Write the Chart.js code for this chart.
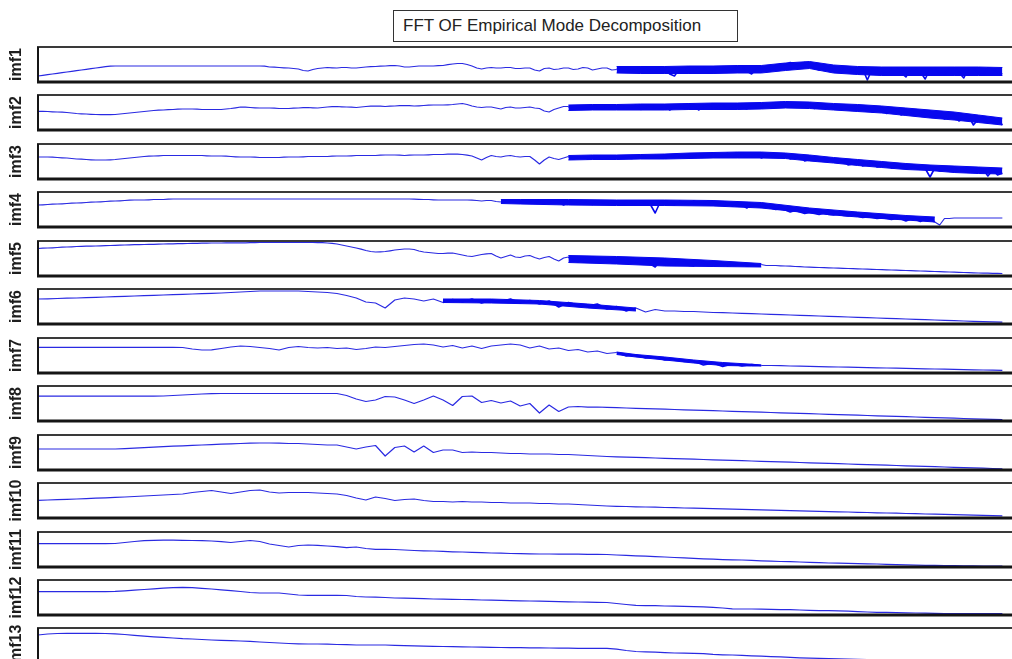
<!DOCTYPE html>
<html lang="en">
<head>
    <meta charset="UTF-8">
    <title>FFT OF Empirical Mode Decomposition</title>
    <script src="https://cdn.jsdelivr.net/npm/chart.js"></script>
    <style>
        body {
            margin: 0;
            width: 1012px;
            height: 659px;
            overflow: hidden;
            background: #fff;
            font-family: "Liberation Sans", Arial, sans-serif;
            position: relative;
        }
        .title-box {
            position: absolute;
            left: 393px;
            top: 10px;
            width: 345px;
            height: 32px;
            box-sizing: border-box;
            border: 1px solid #333;
            font-size: 17px;
            line-height: 30px;
            padding-left: 9px;
            color: #222;
        }
        .panel {
            position: absolute;
            left: 0;
        }
    </style>
</head>
<body>

<div class="title-box">FFT OF Empirical Mode Decomposition</div>
<div id="panels"></div>

<script>
    // values: height above the panel floor (0..35),
    // spread evenly over the frequency axis 0..100
    const modeNames = ['imf1', 'imf2', 'imf3', 'imf4', 'imf5', 'imf6', 'imf7',
                       'imf8', 'imf9', 'imf10', 'imf11', 'imf12', 'imf13'];

    const imf1 = [
        6, 6.6, 7.3, 8, 8.6, 9.3, 10, 10.6, 11.3, 12,
        12.6, 13.3, 14, 14.6, 15.3, 15.8, 16, 16, 16, 16,
        16, 16, 16, 16, 16, 16, 16, 16, 16, 16,
        16, 16, 16, 16, 16, 16, 16, 16, 16, 16,
        16, 16, 16, 16, 16, 16, 16, 15.8, 15, 14.8,
        14.5, 14.2, 14, 13.5, 13, 11.5, 11, 12.5, 13.5, 14,
        14.5, 14.2, 14, 14.5, 14.5, 14, 14, 14.5, 15, 15.3,
        15.5, 15.8, 16, 16.3, 16.5, 16, 15, 15, 15.5, 16,
        16, 16, 16, 16.3, 16.5, 17.3, 18, 18.5, 18.5, 17.5,
        16, 14, 13, 14, 14.5, 14, 14, 14.5, 14.5, 13.5,
        13.5, 14, 14, 12, 11, 13.5, 14, 12.5, 13, 14,
        14, 12.5, 13, 14.5, 14, 12, 13, 14, 14, 12,
        12.5, 14.5, 14, 10.5, 12, 15, 14.5, 11, 11, 14.5,
        14, 8, 6, 13, 14, 10.5, 11, 14.5, 14.5, 10,
        11, 15, 15, 10.5, 12, 15, 15.5, 11, 8, 13,
        15, 12.5, 12, 16, 18, 17.5, 19.5, 18.5, 17, 19.5,
        17.5, 13.5, 12, 15, 15, 11, 10, 14, 14, 10,
        9, 13.5, 2, 13, 13.5, 9.5, 8, 14, 14, 9,
        5, 13.5, 14, 10, 3, 13, 13.5, 9, 8, 14,
        14, 9.5, 4, 13.5, 14, 9, 7, 14, 13.5, 9.5,
        8];

    const imf2 = [
        18.7, 18.6, 18.5, 18.2, 18, 17.8, 17.5, 17, 16.5, 16.2,
        16, 15.7, 15.5, 15.4, 15.3, 15.4, 15.5, 16, 16.5, 17,
        17.5, 18, 18.5, 19, 19.5, 19.8, 20, 20.3, 20.5, 20.8,
        21, 21, 21, 20.8, 20.5, 20.5, 20.5, 20.5, 20.5, 21,
        21.5, 22.2, 23, 22.8, 22.5, 22.2, 22, 22, 22, 21.8,
        21.5, 21.5, 21.5, 21.8, 22, 22.3, 22.5, 22.2, 22, 22.5,
        23, 23.3, 23.5, 23.2, 23, 22.8, 22.5, 23, 23.5, 23.8,
        24, 23.8, 23.5, 23.8, 24, 24.3, 24.5, 24.3, 24, 24.2,
        24.5, 24.8, 25, 25, 25, 25.2, 25.5, 26, 26.5, 25.5,
        24, 23, 22.5, 23, 23, 22, 21, 22.5, 23, 22,
        22, 22.5, 23, 22, 21.5, 19, 18, 20.5, 22, 23.5,
        23.5, 21, 24, 22, 21, 24.5, 22.5, 21.5, 24.5, 22,
        22, 24.5, 21, 23, 25, 20.5, 22.5, 25, 22, 22.5,
        25, 20, 23, 25, 21.5, 22, 25, 20, 23, 25.5,
        21, 22.5, 25.5, 21.5, 23, 26, 22.5, 21, 26, 22,
        23.5, 26.5, 22, 23, 27.5, 24, 23, 27, 25, 23.5,
        26.5, 21.5, 24, 25, 21, 23, 24, 20.5, 21.5, 23.5,
        19.5, 21, 23, 18, 20, 21.5, 16.5, 19, 20.5, 15,
        17.5, 19, 14, 16, 17.5, 13, 15, 16, 11, 13.5,
        16, 9, 12, 14, 5, 11, 12.5, 7, 10, 11.5,
        5];

    const imf3 = [
        22, 22, 22, 21.8, 21.5, 21.2, 21, 20.5, 20, 19.8,
        19.5, 19.2, 19, 19, 19, 19.2, 19.5, 20, 20.5, 21,
        21.5, 22, 22.5, 22.8, 23, 23.2, 23.5, 23.5, 23.5, 23.5,
        23.5, 23.5, 23.5, 23.5, 23.5, 23.2, 23, 23, 23, 22.8,
        22.5, 22.2, 22, 22, 22, 21.8, 21.5, 21.5, 21.5, 21.5,
        21.5, 21.8, 22, 22, 22, 22.2, 22.5, 22.5, 22.5, 22.5,
        22.5, 22.8, 23, 23, 23, 23.2, 23.5, 23.5, 23.5, 23.5,
        23.5, 23.8, 24, 24, 24, 23.8, 23.5, 23.8, 24, 24,
        24, 24.2, 24.5, 24.5, 24.5, 24.8, 25, 24.8, 24.5, 23.8,
        23, 21, 19, 21.5, 23.5, 22.5, 22, 23, 23.5, 22.5,
        22, 22.5, 22.5, 19, 15, 19, 22, 20.5, 19.5, 21,
        22.5, 20, 21.5, 22.5, 20, 20.5, 22.5, 20.5, 21, 23,
        20.5, 21.5, 23, 20.5, 21, 23.5, 21, 21.5, 23.5, 21,
        22, 24, 21.5, 22, 24.5, 21, 22.5, 25, 22, 22.5,
        26, 22, 23, 26, 22, 23, 26, 22.5, 23.5, 26,
        21, 23, 25.5, 22, 22.5, 24.5, 20, 21, 23, 18,
        19.5, 21.5, 18, 18, 20, 17, 16.5, 18, 14, 15,
        17, 13, 14, 16.5, 12, 13, 15, 11, 12, 14,
        10, 11, 13, 10, 10.5, 2, 11, 8, 9, 10,
        12, 8, 8.5, 11, 7, 9, 10, 3, 9, 4,
        6];

    const imf4 = [
        22, 22.2, 22.5, 22.8, 23, 23.2, 23.5, 23.8, 24, 24.2,
        24.5, 24.8, 25, 25.2, 25.5, 25.8, 26, 26.2, 26.5, 26.8,
        27, 27, 27, 27.2, 27.5, 27.5, 27.5, 27.8, 28, 28,
        28, 28, 28, 28, 28, 28, 28, 28, 28, 28,
        28, 28, 28, 28, 28, 28, 28, 28, 28, 28,
        28, 28, 28, 28, 28, 28, 28, 28, 28, 28,
        28, 28, 28, 28, 28, 28, 28, 28, 28, 28,
        28, 28, 28, 28, 28, 28, 28, 28, 27.8, 27.6,
        27.5, 27.5, 27.2, 27, 27, 27, 27, 27, 27, 27,
        26.8, 26.5, 26, 26.5, 26.5, 25.5, 25, 26, 26, 24.5,
        24.5, 26, 25, 24, 26.5, 24, 23.5, 26, 25.5, 22,
        25.5, 24, 23.5, 26, 24.5, 22.5, 26, 25, 23, 26,
        24, 22, 25.5, 24.5, 22.5, 26, 24, 22.5, 14, 24.5,
        25.5, 23, 22, 26, 24, 22.5, 26, 24.5, 22.5, 26,
        24, 23, 25, 23, 21, 24.5, 22, 19, 22.5, 21,
        19.5, 21, 19, 17.5, 18.5, 17, 15, 16.5, 15, 13.5,
        14.5, 13.5, 12.5, 14, 12.5, 12, 13, 11.5, 11, 12,
        11, 9.5, 10, 9.5, 8.5, 9, 8.5, 7.5, 8.5, 8,
        6, 8, 7.5, 5.5, 8, 7.5, 5, 2, 8.5, 8.5,
        9, 9, 9, 9, 9, 9, 9, 9, 9, 9,
        9];

    const imf5 = [
        27.5, 27.8, 28, 28.2, 28.5, 28.8, 29, 29.2, 29.5, 29.6,
        29.8, 29.9, 30, 30.2, 30.3, 30.5, 30.6, 30.8, 31, 31.2,
        31.3, 31.4, 31.5, 31.6, 31.7, 31.8, 32, 32.1, 32.2, 32.3,
        32.4, 32.5, 32.6, 32.7, 32.8, 32.9, 33, 33, 33, 33.1,
        33.2, 33.2, 33.2, 33.2, 33.3, 33.4, 33.5, 33.5, 33.5, 33.5,
        33.5, 33.5, 33.5, 33.5, 33.5, 33.5, 33.5, 33.5, 33.4, 33.3,
        33, 32.6, 32, 31, 30, 29, 28, 26.8, 25.5, 24.5,
        24, 24.2, 24.5, 25.2, 26, 26.5, 27, 27, 26.5, 25,
        24, 23.5, 23, 22.5, 22.5, 22.8, 23, 22, 21, 20,
        19.5, 20.5, 21.5, 22.2, 22.5, 20, 18, 19.5, 21, 19,
        18.5, 20, 20.5, 18.5, 17, 18.5, 19.5, 17, 15, 18,
        19, 15.5, 14, 17.5, 18.5, 14, 15, 18, 17.5, 13,
        13, 17, 18, 13.5, 14, 17.5, 17, 12, 9, 15,
        17, 12, 11, 16, 15.5, 10.5, 10, 14.5, 14, 10.5,
        11, 13.5, 13.5, 10, 11, 12.5, 12.5, 10, 10.5, 11.5,
        11.5, 10.5, 10.5, 10.5, 10.2, 10, 9.8, 9.5, 9.3, 9,
        8.9, 8.7, 8.5, 8.4, 8.2, 8, 7.9, 7.7, 7.5, 7.4,
        7.2, 7, 6.9, 6.7, 6.5, 6.4, 6.2, 6, 5.9, 5.7,
        5.5, 5.4, 5.2, 5, 4.9, 4.7, 4.5, 4.4, 4.2, 4,
        3.9, 3.7, 3.5, 3.4, 3.2, 3, 2.9, 2.8, 2.7, 2.6,
        2.5];

    const imf6 = [25, 25.2, 25.5, 25.8, 26, 26.3, 26.6, 27, 27.3, 27.6, 28, 28.3, 28.6, 29, 29.3, 29.6, 30, 30.3, 30.6, 31,
        31.5, 32, 32.5, 33, 33, 33, 33, 33, 32.5, 32, 31.5, 30.5, 28.5, 26, 22, 21, 16, 24, 26, 25,
        23, 25, 21.5, 24.5, 22, 25, 21, 24, 22.5, 25, 21, 23.5, 20, 23, 17, 21.5, 19, 18, 20, 15,
        17.5, 13, 16, 12, 14.5, 13, 13, 12.5, 12.5, 12, 11.5, 11.3, 11, 10.6, 10.3, 10, 9.6, 9.3, 9, 8.6,
        8.3, 8, 7.6, 7.3, 7, 6.6, 6.3, 6, 5.6, 5.3, 5, 4.6, 4.3, 4, 3.6, 3.3, 3, 2.7, 2.4, 2.1, 1.8];

    const imf7 = [25.7, 25.7, 25.7, 25.7, 25.7, 25.7, 25.7, 25.7, 25.7, 25.7, 25.7, 25.7, 25.7, 25.6, 25.6, 25.5, 24, 23, 23.2, 24.5,
        26, 27, 26.5, 25.5, 24.5, 23, 25.5, 26.5, 25.5, 25, 25.5, 24.5, 25, 23.5, 24.5, 26, 25.5, 26.5, 27.5, 28.5,
        29, 28, 26, 27.5, 25, 27, 24.5, 27, 28, 29, 28, 25, 27, 24, 25, 22.5, 23.5, 21, 22, 19.5,
        20.5, 17, 18, 15, 16, 13, 14, 11.5, 12, 8, 10, 6.5, 9, 7, 8.5, 7.5, 7.5, 7.3, 7, 6.8,
        6.6, 6.4, 6.2, 6, 5.8, 5.6, 5.4, 5.2, 5, 4.8, 4.6, 4.4, 4.2, 4, 3.8, 3.6, 3.4, 3.2, 3, 2.8, 2.6];

    const imf8 = [24.8, 24.8, 24.8, 24.8, 24.8, 24.8, 24.8, 24.8, 24.8, 24.8, 24.8, 24.8, 24.8, 25, 25.5, 26, 26.5, 27, 27.3, 27.5,
        27.5, 27.5, 27.5, 27.5, 27.5, 27.5, 27.5, 27.5, 27.5, 27.5, 27.5, 27.5, 25.5, 22, 19.5, 21, 24.5, 24, 21, 17.5,
        21, 25, 21, 15.5, 24.5, 25, 18.5, 20.5, 18, 20, 15, 17.5, 8, 16, 9.5, 14, 14.5, 13.8, 14, 13.6,
        13.3, 13, 12.7, 12.4, 12.1, 11.8, 11.5, 11.2, 10.9, 10.6, 10.3, 10, 9.7, 9.4, 9.1, 8.8, 8.5, 8.2, 7.9, 7.6,
        7.3, 7, 6.7, 6.4, 6.1, 5.8, 5.5, 5.2, 4.9, 4.6, 4.3, 4, 3.7, 3.4, 3.1, 2.8, 2.5, 2.2, 1.9, 1.6, 1.3];

    const imf9 = [21, 21, 21, 21, 21, 21, 21, 21, 21, 21.3, 21.8, 22.3, 22.8, 23.3, 23.8, 24.2, 24.6, 25, 25.4, 25.8,
        26.2, 26.5, 26.8, 27, 27, 26.8, 26.5, 26.5, 26, 25.5, 25, 25, 23, 21, 23, 24.5, 14, 22.5, 24, 18,
        24, 17.5, 20, 20, 17.5, 18, 17.5, 17.5, 17, 16.5, 16.5, 16, 16, 16, 15.5, 15.5, 15, 14.5, 14, 13.5,
        13.2, 12.9, 12.6, 12.3, 12, 11.7, 11.4, 11.1, 10.8, 10.5, 10.2, 9.9, 9.6, 9.3, 9, 8.7, 8.4, 8.1, 7.8, 7.5,
        7.2, 6.9, 6.6, 6.3, 6, 5.7, 5.4, 5.1, 4.8, 4.5, 4.2, 3.9, 3.6, 3.3, 3, 2.7, 2.4, 2.1, 1.8, 1.5, 1.2];

    const imf10 = [17.6, 18, 18.3, 18.6, 19, 19.4, 19.8, 20.2, 20.6, 21, 21.5, 22, 22.5, 23, 23.5, 24, 25.5, 26.5, 27.5, 26,
        24.5, 26, 27.5, 28, 26, 25, 25.5, 25.5, 25.5, 25, 24.5, 24, 22.5, 20, 18, 21, 19.5, 17.5, 18.5, 19,
        17.5, 16.5, 16.5, 16, 16.5, 16, 16, 15.5, 15.5, 15, 15, 15, 14.5, 14.5, 14, 14, 13.5, 13, 12.5, 12,
        11.7, 11.5, 11.2, 11, 10.8, 10.5, 10.3, 10, 9.8, 9.6, 9.3, 9.1, 8.8, 8.6, 8.4, 8.1, 7.9, 7.6, 7.4, 7.2,
        6.9, 6.7, 6.4, 6.2, 6, 5.7, 5.5, 5.2, 5, 4.8, 4.5, 4.3, 4, 3.8, 3.6, 3.3, 3.1, 2.8, 2.6, 2.4, 2.2];

    const imf11 = [23.3, 23.3, 23.3, 23.3, 23.3, 23.3, 23.3, 23.3, 23.5, 24.5, 25.5, 26.3, 26.7, 26.8, 26.8, 26.7, 26.5, 26.3, 26, 25.3,
        24.5, 25.5, 26.5, 25.5, 23, 21.5, 20, 21.5, 22, 21.7, 21, 20.3, 19.3, 20, 18.5, 17.7, 17.7, 17.5, 17, 16.5,
        16.2, 16, 15.6, 15.2, 15, 14.6, 14.3, 14, 13.8, 13.5, 13.3, 13.2, 13, 13, 12.9, 12.8, 12.8, 12.7, 12.7, 12.5,
        12, 11.6, 11.2, 10.8, 10.4, 10, 9.5, 9.2, 8.6, 8.2, 7.8, 7.4, 7.2, 7, 6.6, 6.2, 5.8, 5.5, 5.3, 5,
        4.6, 4.3, 4, 3.8, 3.6, 3.4, 3.2, 3, 2.7, 2.4, 2.1, 1.9, 1.7, 1.6, 1.4, 1.3, 1.2, 1.1, 1, 1, 1];

    const imf12 = [23.4, 23.4, 23.4, 23.4, 23.4, 23.4, 23.4, 23.4, 23.6, 24.2, 24.8, 25.5, 26.2, 26.9, 27.4, 27.7, 27.3, 26.7, 26, 25.2,
        24.3, 23.5, 22.5, 22, 22, 22, 21, 20, 19.7, 19.7, 19.7, 19.7, 19.5, 18.5, 18, 17.8, 17.5, 17, 16.8, 16.6,
        16.3, 16, 15.8, 15.7, 15.5, 15.3, 15, 14.8, 14.6, 14.4, 14.2, 14, 13.8, 13.6, 13.4, 13.2, 13, 12.8, 12.7, 12.5,
        11.5, 10.5, 9.6, 9.4, 9.3, 9, 8.8, 8.6, 8.4, 8.2, 7.6, 7, 6.2, 6, 6, 5.8, 5.6, 5.4, 5.4, 5,
        4.6, 4.4, 4.4, 4.2, 3.8, 3.4, 3, 2.7, 2.6, 2.4, 2.2, 2, 1.8, 1.6, 1.5, 1.5, 1.5, 1.4, 1.4, 1.3, 1.3];

    const imf13 = [28, 29, 29.5, 29.7, 29.7, 29.7, 29.7, 29.5, 29.2, 28.5, 27.6, 26.8, 26.2, 25.6, 25, 24.3, 24, 23.5, 23, 22.7,
        22.3, 22, 21.6, 21, 20.5, 20, 19.5, 19.2, 19, 19, 18.8, 18.5, 18.3, 18, 18, 18, 18, 17.7, 17.4, 17.1,
        16.9, 16.7, 16.5, 16.3, 16.1, 16, 15.8, 15.6, 15.5, 15.4, 15.3, 15.2, 15.1, 15, 14.9, 14.8, 14.7, 14.7, 14.7, 14.6,
        13.8, 12.5, 11.5, 11.2, 10.8, 10.4, 10, 9.8, 9.7, 9.3, 8.6, 8.2, 8, 7.6, 7.2, 6.8, 6.4, 6.1, 5.6, 5.2,
        4.8, 4.6, 4.4, 4.1, 3.8, 3.6, 3.4, 3.2, 3, 2.8, 2.6, 2.4, 2.2, 2, 1.8, 1.6, 1.5, 1.4, 1.3, 1.2, 1.1];

    const modes = [imf1, imf2, imf3, imf4, imf5, imf6, imf7, imf8, imf9, imf10, imf11, imf12, imf13];

    // where the trace is a dense noisy band: x positions with the band's upper and lower edge
    const band1X   = [60, 62.5, 65, 67.5, 70, 72.5, 75, 77.5, 80, 82.5, 85, 87.5, 90, 92.5, 95, 97.5, 100];
    const band1Top = [15.5, 15.5, 15.5, 16, 16, 16.5, 16.5, 19, 20.5, 17, 15.5, 15, 15, 15, 15, 15, 14.5];
    const band1Bot = [9, 8.5, 8.5, 8.5, 8.5, 9, 9, 11.5, 13.5, 9, 7.5, 6.5, 6.5, 6.5, 6.5, 6.5, 6.5];

    const band2X   = [55, 57.5, 60, 62.5, 65, 67.5, 70, 72.5, 75, 77.5, 80, 82.5, 85, 87.5, 90, 92.5, 95, 97.5, 100];
    const band2Top = [25, 25.5, 25.5, 26, 26, 26.5, 27, 27, 27.5, 28.5, 28, 26.5, 25.5, 24, 22, 20, 18, 15, 12];
    const band2Bot = [19.5, 20, 20, 20, 20, 20.5, 20.5, 20.5, 21, 22, 21.5, 20, 18.5, 17, 14.5, 12, 10, 7.5, 5];

    const band3X   = [55, 57.5, 60, 62.5, 65, 67.5, 70, 72.5, 75, 77.5, 80, 82.5, 85, 87.5, 90, 92.5, 95, 97.5, 100];
    const band3Top = [23.5, 24, 24, 24.5, 25, 26, 26.5, 27, 27, 26, 24, 21.5, 19.5, 17.5, 15.5, 14, 13, 12, 11];
    const band3Bot = [19, 19.5, 19.5, 20, 20, 20.5, 21, 21, 21, 20.5, 18, 16, 13.5, 11.5, 9.5, 8.5, 6.5, 5.5, 5];

    const band4X   = [48, 50, 55, 60, 65, 70, 75, 80, 85, 90, 93];
    const band4Top = [27.5, 27.5, 27.5, 27, 27, 26.5, 24.5, 19, 15, 11.5, 10];
    const band4Bot = [23.5, 23, 22, 21.5, 21.5, 21, 19, 14, 10, 7, 5];

    const band5X   = [55, 60, 65, 70, 75];
    const band5Top = [20.5, 19.5, 18, 15.5, 12.5];
    const band5Bot = [13.5, 12, 10, 9.5, 9];

    const band6X   = [42, 47, 52, 57, 62];
    const band6Top = [25, 25, 23.5, 20, 16];
    const band6Bot = [21.5, 21, 20, 16, 13];

    const band7X   = [60, 62, 65, 68, 71, 74, 75];
    const band7Top = [21, 18.5, 16, 13, 10.5, 8.8, 8];
    const band7Bot = [18.5, 16, 13, 10, 7.5, 7, 7];

    const bands = [
        [band1X, band1Top, band1Bot], [band2X, band2Top, band2Bot], [band3X, band3Top, band3Bot],
        [band4X, band4Top, band4Bot], [band5X, band5Top, band5Bot], [band6X, band6Top, band6Bot],
        [band7X, band7Top, band7Bot]
    ];

    const panelTop0 = 47;
    const panelStep = 48.45;
    const panelH = 35;
    const padV = 6;
    const lineBlue = '#2a2ae2';
    const bandBlue = '#0808ee';

    // axes frame: grey top rule, dark left rule, heavy bottom rule
    const framePlugin = {
        id: 'frame',
        afterDraw(chart) {
            const a = chart.chartArea;
            const ctx = chart.ctx;
            ctx.save();
            ctx.strokeStyle = '#3a3a3a';
            ctx.lineWidth = 2;
            ctx.beginPath();
            ctx.moveTo(a.left - 1, a.top);
            ctx.lineTo(a.right, a.top);
            ctx.stroke();
            ctx.strokeStyle = '#151515';
            ctx.beginPath();
            ctx.moveTo(a.left, a.top);
            ctx.lineTo(a.left, a.bottom);
            ctx.stroke();
            ctx.lineWidth = 3;
            ctx.beginPath();
            ctx.moveTo(a.left - 1, a.bottom);
            ctx.lineTo(a.right, a.bottom);
            ctx.stroke();
            ctx.restore();
        }
    };

    const holder = document.getElementById('panels');

    modes.forEach((vals, k) => {
        const div = document.createElement('div');
        div.className = 'panel';
        div.style.top = (panelTop0 + k * panelStep - padV) + 'px';
        const canvas = document.createElement('canvas');
        canvas.width = 1012;
        canvas.height = panelH + 2 * padV;
        div.appendChild(canvas);
        holder.appendChild(div);

        const step = 100 / (vals.length - 1);
        const band = bands[k];
        const inBand = c => band && c.p0.parsed.x >= band[0][0] && c.p1.parsed.x <= band[0][band[0].length - 1];

        const datasets = [{
            data: vals.map((v, i) => ({x: i * step, y: v})),
            borderColor: lineBlue,
            borderWidth: 1.2,
            borderJoinStyle: 'round',
            pointRadius: 0,
            tension: 0,
            order: 0,
            segment: {
                borderWidth: c => inBand(c) ? 1.6 : 1.2,
                borderColor: c => inBand(c) ? bandBlue : lineBlue
            }
        }];

        if (band) {
            datasets.push({
                data: band[0].map((x, i) => ({x: x, y: band[1][i]})),
                borderColor: bandBlue,
                borderWidth: 1,
                backgroundColor: bandBlue,
                pointRadius: 0,
                tension: 0,
                fill: '+1',
                order: 1
            }, {
                data: band[0].map((x, i) => ({x: x, y: band[2][i]})),
                borderColor: bandBlue,
                borderWidth: 1,
                pointRadius: 0,
                tension: 0,
                fill: false,
                order: 1
            });
        }

        new Chart(canvas.getContext('2d'), {
            type: 'line',
            data: { datasets: datasets },
            options: {
                responsive: false,
                animation: false,
                devicePixelRatio: 1,
                layout: { padding: { top: padV, bottom: padV, left: 0, right: 0 } },
                plugins: { legend: { display: false }, tooltip: { enabled: false } },
                scales: {
                    x: { type: 'linear', min: 0, max: 101, display: false },
                    y: {
                        min: 0,
                        max: 35,
                        grid: { display: false },
                        border: { display: false },
                        ticks: { display: false },
                        title: {
                            display: true,
                            text: modeNames[k],
                            color: '#1e1e1e',
                            font: { family: '"Liberation Sans", Arial, sans-serif', size: 16, weight: 'bold' },
                            padding: { top: 7, bottom: 0 }
                        },
                        afterFit(scale) { scale.width = 38; }
                    }
                }
            },
            plugins: [framePlugin]
        });
    });
</script>

</body>
</html>
